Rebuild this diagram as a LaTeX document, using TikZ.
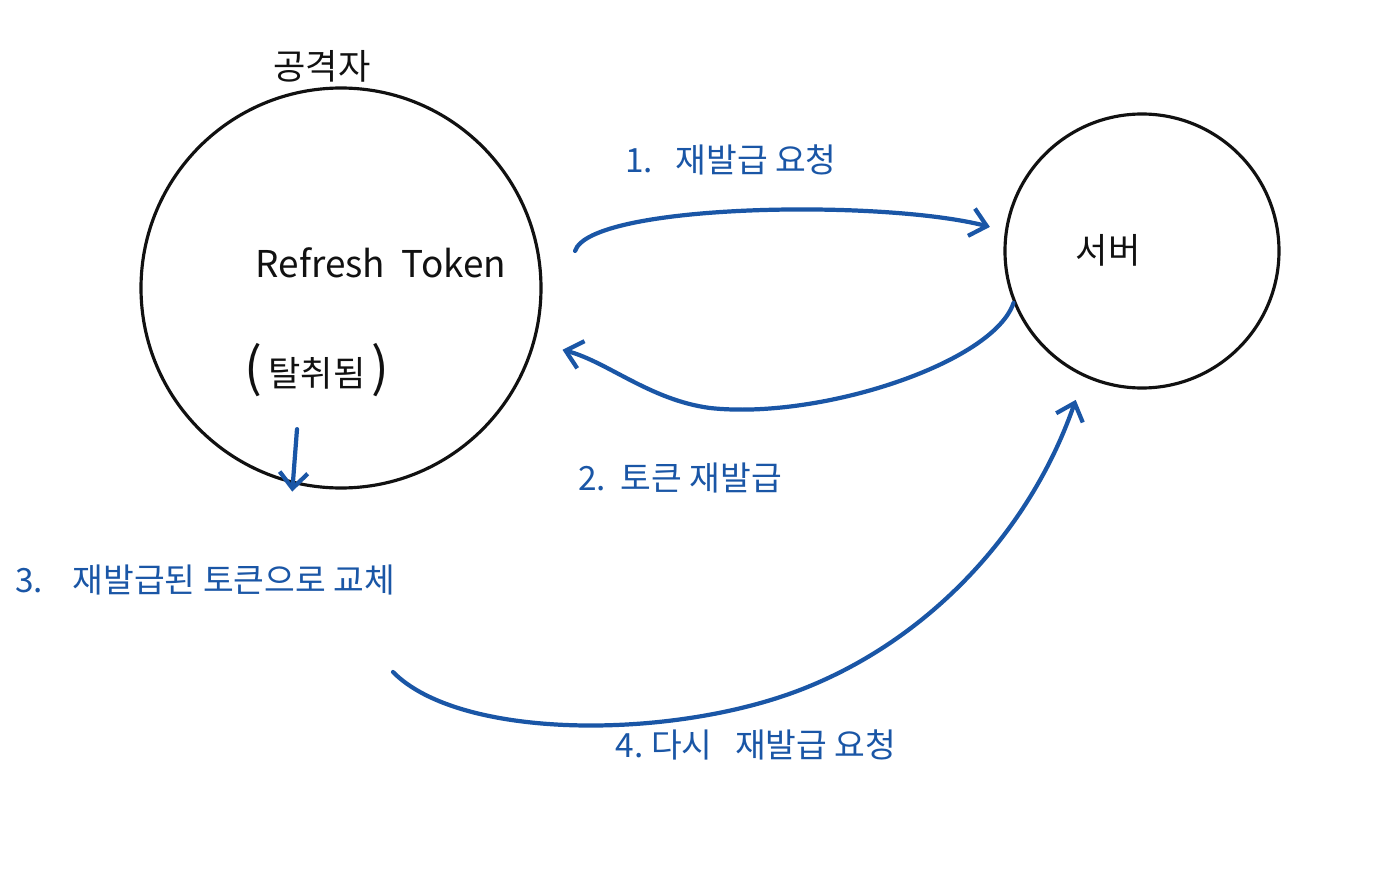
\documentclass[tikz,border=0pt]{standalone}
\usepackage{fontspec}
\setmainfont{Noto Sans CJK KR}
\usepackage{xcolor}
\definecolor{Pen}{HTML}{111111}
\definecolor{Ink}{HTML}{1A56A6}
\usetikzlibrary{arrows.meta,calc}

\begin{document}
\begin{tikzpicture}[
  party/.style={circle,draw=Pen,line width=0.9pt,inner sep=0pt},
  penlabel/.style={text=Pen,font=\fontsize{10}{12}\selectfont},
  note/.style={text=Ink,font=\fontsize{9.5}{11}\selectfont},
  flow/.style={-{Straight Barb[length=4.5pt,width=8pt]},draw=Ink,line width=1.2pt,line cap=round}
]
  \useasboundingbox[fill=white] (0,0) rectangle (13.76,-8.89);

  \node[party,minimum size=4.0cm] (attacker) at (3.41,-2.88) {};
  \node[party,minimum size=2.74cm] (server) at (11.42,-2.51) {};

  \node[penlabel] (who) at (3.22,-0.66) {공격자};
  \node[penlabel,font=\fontsize{10.5}{12}\selectfont] (token) at (3.81,-2.63) {Refresh~~Token};
  \node[penlabel] (stolen) at (3.17,-3.70) {{\fontsize{15}{15}\selectfont(}\,탈취됨\,{\fontsize{15}{15}\selectfont)}};
  \node[penlabel] (srv) at (11.08,-2.50) {서버};

  \node[note] (ask) at (7.31,-1.60) {1.~~~재발급 요청};
  \node[note] (reissue) at (6.80,-4.78) {2.~~토큰 재발급};
  \node[note] (swap) at (2.05,-5.80) {3.~~~~재발급된 토큰으로 교체};
  \node[note] (again) at (7.56,-7.45) {4.~다시~~~재발급 요청};

  \coordinate (retry) at (3.93,-6.72);

  % 1. reissue request
  \draw[flow] ($(attacker.center)+(9:2.37)$) .. controls +(0.15,0.47) and +(-1.1,0.28) .. ($(server.center)+(171:1.54)$);
  % 2. new token comes back
  \draw[flow] (server.202) .. controls +(-0.2,-0.6) and +(1.1,-0.12) .. (7.1,-4.08)
    .. controls +(-0.6,0.08) and +(0.45,-0.12) .. ($(attacker.center)+(-15.6:2.30)$);
  % 3. swap in the reissued token
  \draw[flow] ($(stolen.south)+(-0.2,-0.2)$) -- ($(attacker.-104)+(0,-0.08)$);
  % 4. request again
  \draw[flow] (retry) .. controls +(0.67,-0.68) and +(-1.3,-0.5) .. (8.0,-6.9)
    .. controls +(1.3,0.5) and +(-0.45,-1.3) .. ($(server.center)+(-114:1.63)$);
\end{tikzpicture}
\end{document}
